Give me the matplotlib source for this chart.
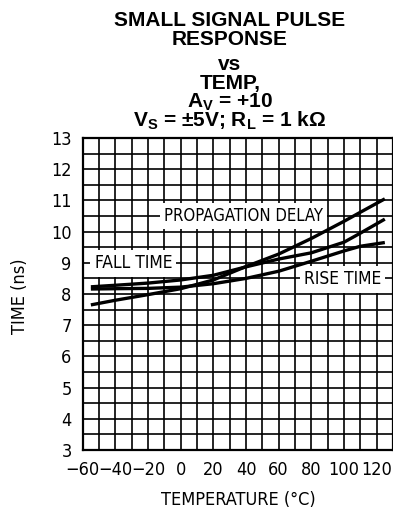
import numpy as np
import matplotlib
matplotlib.use('Agg')
import matplotlib.pyplot as plt

# values
temp = [-55, -40, -20, 0, 20, 40, 60, 80, 100, 110, 125]
prop_delay = [7.65, 7.8, 7.98, 8.17, 8.45, 8.88, 9.28, 9.78, 10.33, 10.62, 11.05]
fall_time = [8.23, 8.28, 8.35, 8.45, 8.6, 8.87, 9.12, 9.32, 9.66, 9.95, 10.4]
rise_time = [8.16, 8.17, 8.18, 8.22, 8.33, 8.5, 8.73, 9.05, 9.38, 9.53, 9.65]

x_ticks = [-60, -40, -20, 0, 20, 40, 60, 80, 100, 120]
y_ticks = [3, 4, 5, 6, 7, 8, 9, 10, 11, 12, 13]

plt.rcParams['mathtext.fontset'] = 'custom'
plt.rcParams['mathtext.rm'] = 'Liberation Sans:bold'
plt.rcParams['mathtext.it'] = 'Liberation Sans:bold'
plt.rcParams['mathtext.bf'] = 'Liberation Sans:bold'
# thin condensed lettering for axes text
cond = dict(family='DejaVu Sans', stretch='condensed', weight='light')

W, H = 393, 514
fig = plt.figure(figsize=(W / 100, H / 100), dpi=100)
ax = fig.add_axes([82.7 / W, 1 - 450 / H, (W - 82.7) / W, (450 - 138) / H])

ax.set_xlim(-60, 130)
ax.set_ylim(3, 13)
ax.set_xticks(x_ticks)
ax.set_yticks(y_ticks)
ax.set_xticks(np.arange(-60, 131, 10), minor=True)
ax.set_yticks(np.arange(3, 13.01, 0.5), minor=True)
ax.grid(which='both', color='black', lw=1.2)
ax.set_axisbelow(True)
ax.tick_params(which='both', length=0)
ax.tick_params(axis='x', pad=8)
ax.tick_params(axis='y', pad=8)
for lab in ax.get_xticklabels() + ax.get_yticklabels():
    lab.set(fontsize=13, **cond)
for sp in ax.spines.values():
    sp.set_linewidth(1.6)

for series in (prop_delay, fall_time, rise_time):
    ax.plot(temp, series, color='black', lw=2.4, solid_capstyle='butt', zorder=5)

box = dict(facecolor='white', edgecolor='none', pad=3)
ax.text(38.5, 10.5, 'PROPAGATION DELAY', fontsize=12, ha='center',
        va='center', bbox=box, zorder=4, **cond)
ax.text(-29, 8.98, 'FALL TIME', fontsize=12.5, ha='center', va='center',
        bbox=box, zorder=4, **cond)
ax.text(99, 8.47, 'RISE TIME', fontsize=12.5, ha='center', va='center',
        bbox=box, zorder=4, **cond)

fig.text(20 / W, 1 - 296 / H, 'TIME (ns)', fontsize=13, rotation=90,
         ha='center', va='center', **cond)
fig.text(238 / W, 1 - 500 / H, 'TEMPERATURE (°C)', fontsize=13,
         ha='center', va='center', **cond)

title_lines = ['SMALL SIGNAL PULSE', 'RESPONSE', 'vs', 'TEMP,',
               'A$_\\mathrm{V}$ = +10',
               'V$_\\mathrm{S}$ = ±5V; R$_\\mathrm{L}$ = 1 kΩ']
baselines = [26, 45.3, 70, 89.3, 107.3, 126.7]
for line, base in zip(title_lines, baselines):
    fig.text(230 / W, 1 - base / H, line, family='Liberation Sans',
             fontweight='bold', fontsize=15, ha='center', va='baseline')

fig.savefig('out.png', dpi=100)
